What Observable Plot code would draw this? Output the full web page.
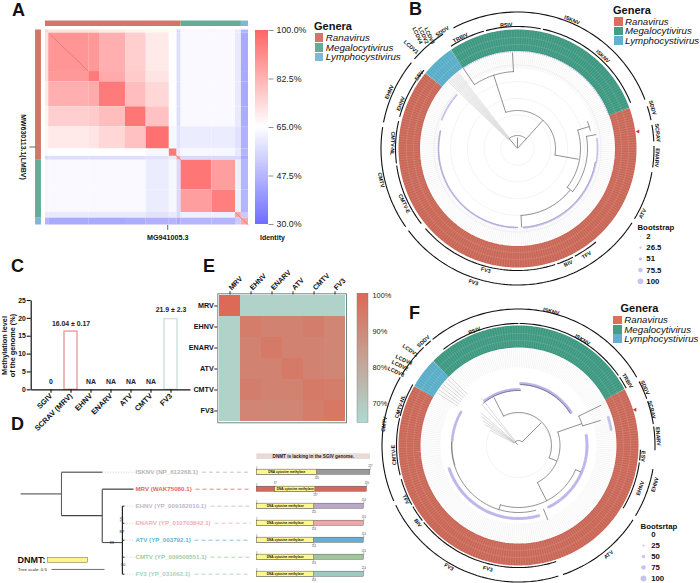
<!DOCTYPE html>
<html><head><meta charset="utf-8">
<style>
html,body{margin:0;padding:0;background:#fff}
#page{position:relative;width:700px;height:583px;overflow:hidden;font-family:"Liberation Sans",Arial,sans-serif;color:#111}
#page>*{position:absolute}
#page svg{overflow:visible;background:transparent}
.letter{font-weight:700;font-size:18px;line-height:18px}
.gt{font-weight:700;font-size:11px;line-height:12px}
.gn{font-style:italic;font-size:10px;line-height:10px;white-space:nowrap}
.sw{display:block}
</style>
<script src="https://cdn.jsdelivr.net/npm/d3@7"></script>
<script src="https://cdn.jsdelivr.net/npm/@observablehq/plot@0.6"></script>
</head><body><div id="page"></div>
<script>
const FONT = '"Liberation Sans"';
const page = document.getElementById("page");

/* ---------- shared ---------- */
const genera = ["Ranavirus", "Megalocytivirus", "Lymphocystivirus"];
const ringColours = ["#c96656", "#3c9880", "#58adc8"];
const swatchColours = ["#dc6f5c", "#429f86", "#5fb2cf"];
const paleColours = ["#d0776a", "#63ad97", "#7fb8d2"];

/* ---------- A: identity heat map ---------- */
const heatBreaks = [0, 1.6, 21.3, 26.6, 39.4, 49.6, 61, 64.8, 66.8, 82, 93.6, 96.5, 100];
const heatIdentity = [
  [75, 72, 72, 70, 68, 67, 64, 56, 63, 63, 60, 47],
  [72, 89, 88, 83, 76, 70, 65, 57, 63.5, 63.5, 60, 44],
  [72, 88, 95, 84, 77, 71, 65, 57, 63.5, 63.5, 60, 44],
  [70, 83, 84, 95, 80, 74, 65, 57, 63.5, 63.5, 60, 44],
  [68, 76, 77, 80, 96, 79, 65, 57, 63.5, 63.5, 60, 45],
  [67, 70, 71, 74, 79, 97, 63, 58, 60.5, 60.5, 58, 46],
  [64, 65, 65, 65, 65, 63, 95, 60, 63, 63, 60, 47],
  [56, 57, 57, 57, 57, 58, 60, 85, 56, 56, 56, 44],
  [63, 63.5, 63.5, 63.5, 63.5, 60.5, 63, 56, 96, 87, 61, 47],
  [63, 63.5, 63.5, 63.5, 63.5, 60.5, 63, 56, 87, 94, 61, 47],
  [60, 60, 60, 60, 60, 58, 60, 56, 61, 61, 85, 52],
  [47, 44, 44, 44, 45, 46, 47, 44, 47, 47, 52, 85]
];
const heatDiagonals = [[2, 21], [61, 67], [94, 100]];
const genusBreaksA = [0, 66.8, 96.5, 100];
const identityDomain = [30, 65, 100];
const identityRange = ["#6f6fff", "#ffffff", "#ff6464"];
const identityTicks = [100, 82.5, 65, 47.5, 30];
const identitySteps = d3.range(30, 100, 0.5);

const heatCells = heatIdentity.flatMap((row, i) => row.map((v, j) => ({
  x1: heatBreaks[j], x2: heatBreaks[j + 1], y1: heatBreaks[i], y2: heatBreaks[i + 1], v
})));
const genusSpans = genera.map((g, i) => ({g, a: genusBreaksA[i], b: genusBreaksA[i + 1]}));

function place(node, left, top) {
  node.style.left = left + "px"; node.style.top = top + "px";
  page.appendChild(node);
}
const base = {axis: null, marginLeft: 0, marginRight: 0, marginTop: 0, marginBottom: 0,
  style: {fontFamily: FONT, background: "transparent", overflow: "visible"}};

place(Plot.plot({...base, width: 250, height: 245,
  x: {domain: [0, 100], range: [45, 248]},
  y: {domain: [0, 100], range: [29.5, 224.5]},
  color: {type: "linear", domain: identityDomain, range: identityRange},
  marks: [
    Plot.rect(heatCells, {x1: "x1", x2: "x2", y1: "y1", y2: "y2", fill: "v"}),
    Plot.link(heatDiagonals, {x1: d => d[0], y1: d => d[0], x2: d => d[1], y2: d => d[1], stroke: "#f07070", strokeWidth: 1, strokeOpacity: .8}),
    Plot.rect(genusSpans, {x1: "a", x2: "b", y1: -4.6, y2: -1.8, fill: (d, i) => paleColours[i]}),
    Plot.rect(genusSpans, {y1: "a", y2: "b", x1: -4.9, x2: -2, fill: (d, i) => paleColours[i]}),
    Plot.link(["MG941005.3"], {x1: 60.2, x2: 60.2, y1: 100, y2: 102.5, stroke: "#222", strokeWidth: .7}),
    Plot.link(["MW630113.1(LMBV)"], {y1: 60, y2: 60, x1: -7.9, x2: -4.9, stroke: "#222", strokeWidth: .7}),
    Plot.text(["MG941005.3"], {x: 60.2, y: 106.5, text: d => d, fontSize: 7.2, fontWeight: 700, fill: "#111"}),
    Plot.text(["MW630113.1(LMBV)"], {x: -10.8, y: 60, text: d => d, rotate: 90, fontSize: 7, fontWeight: 700, fill: "#111"})
  ]}), 0, 0);

place(Plot.plot({...base, width: 310, height: 245,
  x: {domain: [0, 1], range: [255, 268]},
  y: {domain: [30, 100], range: [224, 30]},
  color: {type: "linear", domain: identityDomain, range: identityRange},
  marks: [
    Plot.rect(identitySteps, {x1: 0, x2: 1, y1: d => d, y2: d => Math.min(d + 1, 100), fill: d => d, inset: 0}),
    Plot.link(identityTicks, {x1: 1, x2: 1.38, y1: d => d, y2: d => d, stroke: "#444", strokeWidth: .6}),
    Plot.text(identityTicks, {x: 1.62, y: d => d, text: d => d.toFixed(1) + "%", textAnchor: "start", fontSize: 8.8, fill: "#222"}),
    Plot.text(["Identity"], {x: 1.3, y: 25.3, text: d => d, fontSize: 7, fontWeight: 700, fill: "#111"})
  ]}), 0, 0);

/* ---------- legends ---------- */
function genusLegend(title, left, top, swX, swW, textX, rows, colours, size) {
  const t = document.createElement("div"); t.className = "gt"; t.textContent = title;
  t.style.left = left + "px"; t.style.top = top + "px"; page.appendChild(t);
  genera.forEach((g, i) => {
    const s = document.createElement("div"); s.className = "sw";
    s.style.cssText = `left:${swX}px;top:${rows[i]}px;width:${swW}px;height:8.6px;background:${colours[i]}`;
    page.appendChild(s);
    const n = document.createElement("div"); n.className = "gn"; n.textContent = g;
    n.style.left = textX + "px"; n.style.top = (rows[i] - .5) + "px"; n.style.fontSize = size + "px";
    page.appendChild(n);
  });
}
genusLegend("Genera", 314, 20, 315, 8, 325.8, [33.2, 43, 52.5], paleColours, 9.8);
genusLegend("Genera", 613, 4, 613.5, 9.5, 625, [17.2, 26.6, 36], swatchColours, 9.7);
genusLegend("Genera", 620.5, 302, 613, 9, 624.3, [315.7, 325, 334], swatchColours, 9.7);

[["A", 12, 1], ["B", 409, 0], ["C", 11, 257], ["D", 11, 415], ["E", 203, 257], ["F", 409, 304]].forEach(([l, x, y]) => {
  const d = document.createElement("div"); d.className = "letter"; d.textContent = l;
  d.style.left = x + "px"; d.style.top = y + "px"; page.appendChild(d);
});

/* ---------- circular trees ---------- */
const polar = (a, r) => ({x: r * Math.sin(a * Math.PI / 180), y: -r * Math.cos(a * Math.PI / 180)});
const arcPoints = (a1, a2) => d3.range(0, Math.max(2, Math.ceil(Math.abs(a2 - a1) / 1.5)) + 1)
  .map(k => a1 + (a2 - a1) * k / Math.max(2, Math.ceil(Math.abs(a2 - a1) / 1.5)));
const bootScale = {type: "linear", domain: [0, 100], range: [0.45, 2.9]};

function circular(o) {
  const R = 165, ringR = (o.ringIn + o.ringOut) / 2;
  const arcsToRows = (arcs) => arcs.flatMap((s, k) => arcPoints(s[1], s[2]).map(a => ({...polar(a, s[0]), k})));
  const ringRows = o.ring.flatMap((s, k) => arcPoints(s.a, s.b).map(a => ({...polar(a, ringR), k, g: s.g})));
  const leaves = o.ring.flatMap(s => d3.range(s.n).map(i => ({g: s.g, a: s.a + (s.b - s.a) * (i + .5) / s.n})));
  const circles = o.circles.flatMap((r, k) => arcPoints(0, 360).map(a => ({...polar(a, r), k})));
  const bandDots = o.bands.flatMap(b => leaves.filter(l => l.a >= b[1] && l.a <= b[2]).map(l => ({...polar(l.a, b[0]), boot: b[3]})));
  const textureCircles = o.ringGuides.flatMap((r, k) => arcPoints(0, 360).map(a => ({...polar(a, r), k})));
  return Plot.plot({...base, width: 2 * R, height: 2 * R,
    x: {domain: [-R, R], range: [0, 2 * R]},
    y: {domain: [-R, R], range: [0, 2 * R]},
    color: {type: "ordinal", domain: genera, range: ringColours},
    r: bootScale,
    marks: [
      Plot.line(circles, {x: "x", y: "y", z: "k", stroke: "#eeeeee", strokeWidth: .7}),
      Plot.link(leaves, {x1: d => polar(d.a, o.leafFrom).x, y1: d => polar(d.a, o.leafFrom).y,
        x2: d => polar(d.a, o.ringIn).x, y2: d => polar(d.a, o.ringIn).y, stroke: "#dcdcdc", strokeWidth: .3}),
      Plot.link(o.fan, {x1: d => polar(d[0], d[1]).x, y1: d => polar(d[0], d[1]).y,
        x2: d => polar(d[0], d[2]).x, y2: d => polar(d[0], d[2]).y, stroke: o.fanColour, strokeWidth: o.fanWidth, strokeOpacity: o.fanOpacity}),
      Plot.line(arcsToRows(o.blackBands), {x: "x", y: "y", z: "k", stroke: "#444", strokeWidth: .5}),
      Plot.dot(bandDots, {x: "x", y: "y", r: "boot", fill: "#b5b0e8", fillOpacity: .75}),
      Plot.line(arcsToRows(o.treeArcs), {x: "x", y: "y", z: "k", stroke: "#555", strokeWidth: .65}),
      Plot.link(o.treeRadials, {x1: d => polar(d[0], d[1]).x, y1: d => polar(d[0], d[1]).y,
        x2: d => polar(d[0], d[2]).x, y2: d => polar(d[0], d[2]).y, stroke: "#555", strokeWidth: .65}),
      Plot.line(ringRows, {x: "x", y: "y", z: "k", stroke: "g", strokeWidth: o.ringOut - o.ringIn, strokeLinecap: "butt", strokeLinejoin: "round"}),
      Plot.link(leaves, {x1: d => polar(d.a, o.ringIn + 1).x, y1: d => polar(d.a, o.ringIn + 1).y,
        x2: d => polar(d.a, o.ringOut - .5).x, y2: d => polar(d.a, o.ringOut - .5).y, stroke: "#fff", strokeWidth: .4, strokeOpacity: .3}),
      Plot.line(textureCircles, {x: "x", y: "y", z: "k", stroke: "#fff", strokeWidth: .5, strokeOpacity: .25, strokeDasharray: "1.2,1"}),
      Plot.line(arcsToRows(o.cladeArcs), {x: "x", y: "y", z: "k", stroke: "#111", strokeWidth: 1.1, strokeLinecap: "butt"}),
      Plot.dot([o.triangle], {x: d => polar(d[0], d[1]).x, y: d => polar(d[0], d[1]).y, symbol: "triangle", r: 1.5, fill: "#c0392b", rotate: -90}),
      Plot.text(o.labels, {x: d => polar(d[1], d[2]).x, y: d => polar(d[1], d[2]).y, text: d => d[0], rotate: d => d[3],
        fontSize: 5.4, fontWeight: 700, fill: "#111"})
    ]});
}
const R0 = 165;

const ringB = [
  {g: "Ranavirus", a: 70, b: 309.3, n: 190},
  {g: "Lymphocystivirus", a: 309.3, b: 326, n: 13},
  {g: "Megalocytivirus", a: 326, b: 430, n: 82}
];
const labelsB = [
  ["ISKNV", 23, 139.5, 23], ["ISKNV", 42.8, 125.5, 43], ["RSIV", -5.2, 124, -5], ["TRBIV", -27.3, 124.5, -27],
  ["SDDV", -32.7, 139, -33], ["LCDV1", -46.4, 147, 42], ["LCDV4", -41.5, 151, 65], ["LCDV2", -39.8, 147, 65], ["LCDV3", -38, 143, 65],
  ["SDDV", 73.2, 141, 73], ["SCRAV", 83.6, 141, 84], ["ENARV", 93.8, 140, 94], ["ATV", 117.5, 141, -62],
  ["TFV", 147, 127, -33], ["BIV", 156.2, 125.7, -24], ["FV3", 194.6, 125.7, 15], ["FV3", 198.2, 141, 18],
  ["CMTV-E", 244, 126, 64], ["CMTV", 257, 140, 77], ["CMTV-NL", 272.3, 125, 92], ["EHNV", 291, 125, -69],
  ["EHNV", 293.8, 140, -66], ["ESV", 306.5, 122.5, -53]
];
const cladeArcsB = [
  [136.5, -28, 69], [136.5, 72, 78], [136.5, 80, 87], [136.5, 89, 98], [136.5, 100, 121], [136.5, 123, 233], [136.5, 235, 279], [136.5, 281, 309], [136.5, 311, 327],
  [122, -33, -16], [122, -15, 11], [122, 12, 68], [122, 140, 152], [122, 153, 161], [122, 162, 229], [122, 232, 262], [122, 263, 283], [122, 285, 304], [122, 305, 310]
];
const treeArcsB = [
  [13, -40, 42], [38, -18, 100], [77, -34, -3], [63, 73, 128], [70, 80, 128], [67, 129, 177], [75, 69, 76]
];
const treeRadialsB = [
  [-40, 1, 13], [42, 1, 13], [0, 0, 11], [42, 13, 38], [-18, 38, 77], [-3, 77, 96], [-34, 77, 97], [100, 38, 62],
  [73, 63, 75], [80, 70, 80], [177, 67, 79], [128, 63, 70]
];
const bandsB = [
  [97, 326, 430, 12], [80, 82, 100, 25], [79.5, 100, 176, 28], [79, 180, 283, 25], [81, 290, 312, 25]
];
const blackBandsB = [[79, 100, 176], [79, 180, 283]];
const fanB = [-46, -45, -44, -43, -42, -41, -40, -39, -38].map(a => [a, 13, 97]);

place(circular({
  ring: ringB, ringIn: 97.5, ringOut: 119, ringGuides: [104, 111], leafFrom: 80,
  circles: [16.7, 33.4, 50, 66.8, 83.5], labels: labelsB, cladeArcs: cladeArcsB,
  treeArcs: treeArcsB, treeRadials: treeRadialsB, bands: bandsB, blackBands: blackBandsB,
  fan: fanB, fanColour: "#dadada", fanWidth: 1.1, fanOpacity: .6, triangle: [82, 121.8]
}), 516.7 - R0, 147.5 - R0);

const ringF = [
  {g: "Ranavirus", a: 62, b: 299.7, n: 190},
  {g: "Lymphocystivirus", a: 299.7, b: 314.7, n: 12},
  {g: "Megalocytivirus", a: 314.7, b: 422, n: 85}
];
const labelsF = [
  ["ISKNV", 13.7, 138, 14], ["ISKNV", 31.2, 123.6, 31], ["RSIV", -21, 123, -21], ["SDDV", -42.4, 141, -42],
  ["LCDV1", -48.7, 144, 35], ["LCDV4", -53.3, 143, 25], ["LCDV2", -56, 143, 25], ["LCDV3", -59, 143, 25],
  ["CMTV-NL", -71.8, 124.6, -72], ["CMTV", -81, 136, -81], ["CMTV-E", -94.3, 125, -94],
  ["TFV", 244.4, 125, 64], ["BIV", 232.4, 127, 52], ["FV3", 209.8, 140, 30], ["FV3", 194, 127, 14],
  ["ATV", 140.5, 141.6, -39], ["EHNV", 109.3, 129, -71], ["EHNV", 106, 142, -74], ["ESV", 95, 125, 95],
  ["ENARV", 86.3, 140, 86], ["SCRAV", 75, 138, 75], ["SDDV", 65.4, 139, 65], ["TRBIV", 59.3, 126.7, 59]
];
const cladeArcsF = [
  [136.5, -39, 60], [136.5, -43, -40], [136.5, 62, 70], [136.5, 71, 81], [136.5, 82, 92], [136.5, 100, 121], [136.5, 123, 161], [136.5, 163, 244], [136.5, 246, 300], [136.5, 301, 316],
  [122, -38, 0], [122, 0.5, 55], [122, 56, 62], [122, 92, 97], [122, 98, 121], [122, 162, 231], [122, 232, 240], [122, 241, 254], [122, 256, 283], [122, 284, 300]
];
const treeArcsF = [
  [5, -45, 45], [33, -27, 112], [41.5, 71, 153], [67, 64, 73], [62, 113, 197], [67, 165, 273], [55, -40, 2], [61, 2, 58]
];
const treeRadialsF = [
  [45, 5, 32], [-45, 1, 5], [112, 33, 41.5], [71, 41.5, 67], [64, 67, 92], [73, 67, 86], [153, 41.5, 62], [158.5, 68, 80],
  [197, 62, 67], [-27, 33, 54], [113, 62, 68]
];
const bandsF = [
  [94, 72, 81, 42], [68.5, 81, 155, 45], [73, 163, 252, 48], [66.5, 273, 301, 40], [56, 322, 362, 42], [62, 362, 418, 50]
];
const blackBandsF = [[66.5, 253, 273]];
const fanF = [[-49, 5, 50], [-52, 5, 47], [-55, 5, 44], [-58, 5, 40], [-62, 5, 32], [-38, 5, 60], [-42, 5, 55],
  [-57, 72, 97], [-55, 72, 97], [-53, 72, 97], [-51, 72, 97], [-49, 72, 97], [-47, 72, 97], [-45, 72, 97]];

place(circular({
  ring: ringF, ringIn: 98, ringOut: 120, ringGuides: [105, 112], leafFrom: 78,
  circles: [32], labels: labelsF, cladeArcs: cladeArcsF,
  treeArcs: treeArcsF, treeRadials: treeRadialsF, bands: bandsF, blackBands: blackBandsF,
  fan: fanF, fanColour: "#999", fanWidth: .45, fanOpacity: .8, triangle: [73, 122]
}), 518.3 - R0, 445 - R0);

/* bootstrap legends */
function bootLegend(title, values, left, top, step, dotX, textX) {
  place(Plot.plot({...base, width: 70, height: step * 6,
    x: {domain: [0, 70], range: [0, 70]},
    y: {domain: [0, values.length], range: [0, step * values.length]},
    r: bootScale,
    marks: [
      Plot.text([title], {x: dotX - 3, y: -.76, text: d => d, textAnchor: "start", fontSize: 7.8, fontWeight: 700, fill: "#111"}),
      Plot.dot(values, {x: dotX, y: (d, i) => i, r: d => d, fill: "#bdb9ea", fillOpacity: .85}),
      Plot.text(values, {x: textX, y: (d, i) => i, text: d => String(d), textAnchor: "start", fontSize: 7.8, fontWeight: 700, fill: "#111"})
    ]}), left, top);
}
const bootValuesB = [2, 26.5, 51, 75.5, 100];
const bootValuesF = [0, 25, 50, 75, 100];
bootLegend("Bootstrap", bootValuesB, 630, 236, 11.2, 10, 15.8);
bootLegend("Bootsrtap", bootValuesF, 633, 534.3, 11, 10, 17.7);

/* ---------- C: methylation ---------- */
const methylSamples = ["SGIV", "SCRAV (MRV)", "EHNV", "ENARV", "ATV", "CMTV", "FV3"];
const methylLevels = [0, 16.3, 0, 0, 0, 0, 19.8];
const methylNotes = ["0", "16.04 ± 0.17", "NA", "NA", "NA", "NA", "21.9 ± 2.3"];
const methylStroke = [null, "#e9a3a4", null, null, null, null, "#cfe3df"];
const methylTicks = [0, 5, 10, 15, 20, 25];

place(Plot.plot({...base, width: 190, height: 190, marginLeft: 30.7, marginBottom: 50.7, marginTop: 50,
  x: {domain: methylSamples, range: [34, 186.5], padding: .37},
  y: {domain: [0, 25], range: [139.3, 50]},
  marks: [
    Plot.barY(methylSamples.map((s, i) => ({s, v: methylLevels[i], c: methylStroke[i]})).filter(d => d.v > 0),
      {x: "s", y: "v", fill: "#fff", stroke: "c", strokeWidth: 1.5}),
    Plot.text(methylSamples.map((s, i) => ({s, n: methylNotes[i], v: methylLevels[i]})),
      {x: "s", y: d => d.v + (d.v > 0 ? (d.v > 18 ? 2.5 : 2.1) : 2.3), text: "n", fontSize: 6.9, fontWeight: 700, fill: "#222"}),
    Plot.axisY(methylTicks, {anchor: "left", label: null, tickSize: 4, tickPadding: 1.5, fontSize: 6.8, fontWeight: 700, strokeWidth: 1.1, stroke: "#111"}),
    Plot.axisX(methylSamples, {anchor: "bottom", label: null, tickSize: 3.5, tickPadding: 1.5, tickRotate: -45, fontSize: 7.5, fontWeight: 700, stroke: "#111", strokeWidth: 1.1})
  ]}), 0, 250);
place(Plot.plot({...base, width: 190, height: 190,
  x: {domain: [0, 190], range: [0, 190]},
  y: {domain: [0, 190], range: [0, 190]},
  marks: [
    Plot.link(["baseline"], {x1: 30.7, x2: 190, y1: 139.3, y2: 139.3, stroke: "#111", strokeWidth: 1.2}),
    Plot.link(["axis"], {x1: 30.7, x2: 30.7, y1: 50, y2: 139.3, stroke: "#111", strokeWidth: 1.2}),
    Plot.text(["Methylation level", "of the genome (%)"], {x: (d, i) => 4.5 + i * 8, y: 95, text: d => d, rotate: -90, fontSize: 7.3, fontWeight: 700, fill: "#111"})
  ]}), 0, 250);

/* ---------- E: identity among ranaviruses ---------- */
const enzymeViruses = ["MRV", "EHNV", "ENARV", "ATV", "CMTV", "FV3"];
const dmtIdentity = [
  [100, 67, 67, 67, 67, 67],
  [67, 94, 92.5, 92.5, 93.5, 91.5],
  [67, 92.5, 95, 92.5, 92.5, 91],
  [67, 92.5, 92.5, 95, 92.5, 91],
  [67, 93.5, 92.5, 92.5, 95, 94],
  [67, 91.5, 91, 91, 94, 96]
];
const dmtDomain = [65, 100];
const dmtRange = ["#aed8d0", "#dc6a56"];
const dmtTicks = [100, 90, 80, 70];
const dmtSteps = d3.range(64.7, 100.5, 0.5);

place(Plot.plot({...base, width: 170, height: 175, marginLeft: 37.3, marginTop: 43.3, marginRight: 4, marginBottom: 2.7,
  x: {domain: enzymeViruses, range: [37.3, 166], padding: 0},
  y: {domain: enzymeViruses, range: [43.3, 172.3], padding: 0},
  color: {type: "linear", domain: dmtDomain, range: dmtRange},
  marks: [
    Plot.cell(dmtIdentity.flatMap((r, i) => r.map((v, j) => ({a: enzymeViruses[j], b: enzymeViruses[i], v}))), {x: "a", y: "b", fill: "v"}),
    Plot.frame({stroke: "#5e7f7a", strokeWidth: .9}),
    Plot.axisX({anchor: "top", label: null, tickSize: 3, tickPadding: 2, tickRotate: -45, fontSize: 7.2, fontWeight: 700, stroke: "#222"}),
    Plot.axisY({anchor: "left", label: null, tickSize: 3, tickPadding: 1, fontSize: 7.2, fontWeight: 700, stroke: "#222"})
  ]}), 180, 250);

place(Plot.plot({...base, width: 60, height: 175,
  x: {domain: [0, 1], range: [7, 18]},
  y: {domain: [64.7, 100.5], range: [172.3, 43.3]},
  color: {type: "linear", domain: dmtDomain, range: dmtRange},
  marks: [
    Plot.rect(dmtSteps, {x1: 0, x2: 1, y1: d => d, y2: d => Math.min(d + 1, 100.5), fill: d => d}),
    Plot.rect(["bar"], {x1: 0, x2: 1, y1: 64.7, y2: 100.5, fill: "none", stroke: "#777", strokeWidth: .4}),
    Plot.text(dmtTicks, {x: 1, dx: 4, y: d => d, text: d => d + "%", textAnchor: "start", fontSize: 7.4, fill: "#222"})
  ]}), 350, 250);

/* ---------- D: DNMT tree and domains ---------- */
const dnmtLeaves = ["ISKNV (NP_612268.1)", "MRV (WAK75080.1)", "EHNV (YP_009182010.1)", "ENARV (YP_010703842.1)", "ATV (YP_003792.1)", "CMTV (YP_009508551.1)", "FV3 (YP_031662.1)"];
const dnmtColours = ["#b5b5b5", "#e8665a", "#c2b7c8", "#f3aeb5", "#63b6d6", "#a3cd9f", "#a3d2ca"];
const dnmtBarColours = ["#9a9a9a", "#cc6a5c", "#b9a9c6", "#eea6a9", "#69aed0", "#a2c59e", "#9dcbc1"];
const dnmtLabelEnds = [1.9, 1.84, 1.98, 2.02, 1.83, 1.98, 1.83];
const treeEdges = [
  [.19, 1.27, .575, 1.27, 1.2, "#666"], [.575, 0, .575, 2.56, 1, "#555"], [.575, 0, .962, 0, 1.5, "#777"],
  [.575, 2.56, .96, 2.56, 1.2, "#444"], [.96, 1, .96, 4.14, 1.2, "#555"], [.96, 1, 1.255, 1, 1.5, "#666"],
  [.96, 4.14, 1.15, 4.14, 1, "#444"], [1.15, 2, 1.15, 6, 1.2, "#222"],
  [1.15, 2, 1.17, 2, 1, "#222"], [1.15, 3, 1.17, 3, 1, "#222"], [1.15, 4, 1.17, 4, 1, "#222"], [1.15, 5, 1.17, 5, 1, "#222"], [1.15, 6, 1.17, 6, 1, "#222"]
];
const treeDotted = [[.962, 0], [1.17, 2], [1.17, 3], [1.17, 4], [1.17, 5], [1.17, 6]];
const treeSupport = [["55", 1.145, 2.76, -90], ["87", 1.145, 3.5, 0], ["99", 1.05, 4.14, 0], ["70", 1.155, 5.41, 0]];

place(Plot.plot({...base, width: 256, height: 143,
  x: {domain: [0, 2.415], range: [0, 256]},
  y: {domain: [0, 6], range: [31.7, 133.7]},
  marks: [
    Plot.link(treeEdges, {x1: d => d[0], y1: d => d[1], x2: d => d[2], y2: d => d[3], stroke: d => d[5], strokeWidth: d => d[4]}),
    Plot.link(treeDotted, {x1: d => d[0], x2: 1.27, y1: d => d[1], y2: d => d[1], stroke: "#cfcfcf", strokeWidth: .9, strokeDasharray: "1,1.6"}),
    Plot.link(dnmtLeaves, {x1: (d, i) => dnmtLabelEnds[i], x2: 2.36, y1: (d, i) => i, y2: (d, i) => i, stroke: (d, i) => dnmtColours[i], strokeWidth: .8, strokeDasharray: "4,3"}),
    Plot.text(dnmtLeaves, {x: 1.273, y: (d, i) => i, text: d => d, textAnchor: "start", fill: (d, i) => dnmtColours[i], fontSize: 6.2, fontWeight: 700}),
    Plot.text(treeSupport, {x: d => d[1], y: d => d[2], text: d => d[0], rotate: d => d[3], fontSize: 4.2, fill: "#222"}),
    Plot.text(["DNMT:"], {x: .16, y: 5.2, text: d => d, textAnchor: "start", fontSize: 9, fontWeight: 700, fill: "#111"}),
    Plot.rect(["yellow"], {x1: .45, x2: .828, y1: 5.03, y2: 5.35, fill: "#fdf58c", stroke: "#444", strokeWidth: .4}),
    Plot.text(["Tree scale: 0.5"], {x: .165, y: 5.72, text: d => d, textAnchor: "start", fontSize: 4.4, fill: "#222"}),
    Plot.link(["scale"], {x1: .481, x2: .981, y1: 5.72, y2: 5.72, stroke: "#333", strokeWidth: .7})
  ]}), 0, 440);

const dnmtLengths = [227, 220, 214, 214, 214, 214, 214];
const dnmtDomainFrom = [0, 37, 0, 0, 0, 0, 0];
const dnmtDomainTo = [120, 117, 114, 114, 114, 114, 114];

const dnmtRows = dnmtLengths.map((l, i) => ({i, l, a: dnmtDomainFrom[i], b: dnmtDomainTo[i]}));
place(Plot.plot({...base, width: 130, height: 133,
  x: {domain: [0, 240], range: [6.3, 126.3]},
  y: {domain: [0, 6], range: [21.7, 123.7]},
  marks: [
    Plot.rect(["header"], {x1: 0, x2: 227.4, y1: -1.08, y2: -.75, fill: "#e8dad7"}),
    Plot.text(["DNMT is lacking in the SGIV genome."], {x: 113, y: -.91, text: d => d, fontSize: 4.6, fontWeight: 700, fill: "#222"}),
    Plot.rect(dnmtRows, {x1: 0, x2: "l", y1: d => d.i - .15, y2: d => d.i + .15, fill: d => dnmtBarColours[d.i], stroke: "#444", strokeWidth: .4}),
    Plot.rect(dnmtRows, {x1: "a", x2: "b", y1: d => d.i - .15, y2: d => d.i + .15, fill: "#fdf78f", stroke: "#444", strokeWidth: .35}),
    Plot.text(dnmtRows, {x: d => (d.a + d.b) / 2, y: "i", text: () => "DNA cytosine methylase", fontSize: 3.2, fontWeight: 700, fill: "#222"}),
    Plot.link(dnmtRows, {x1: 0, x2: 0, y1: d => d.i - .36, y2: d => d.i - .15, stroke: "#444", strokeWidth: .35}),
    Plot.link(dnmtRows, {x1: "l", x2: "l", y1: d => d.i - .3, y2: d => d.i - .15, stroke: "#444", strokeWidth: .35}),
    Plot.link(dnmtRows, {x1: "b", x2: "b", y1: d => d.i + .15, y2: d => d.i + .3, stroke: "#444", strokeWidth: .35}),
    Plot.text(dnmtRows, {x: "l", y: d => d.i - .36, text: d => String(d.l), fontSize: 2.6, fill: "#444"}),
    Plot.text(dnmtRows, {x: "b", y: d => d.i + .36, text: d => String(d.b), fontSize: 2.6, fill: "#444"}),
    Plot.text(dnmtRows.filter(d => d.a > 0), {x: "a", y: d => d.i - .36, text: d => String(d.a), fontSize: 2.6, fill: "#444"})
  ]}), 250, 450);
</script></body></html>
